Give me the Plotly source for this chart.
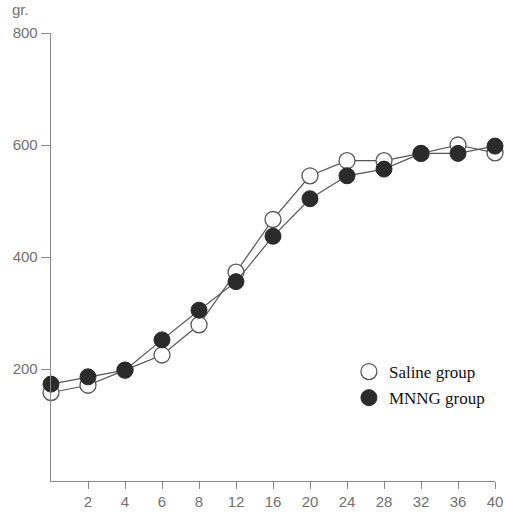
import plotly.graph_objects as go

weeks = ["0", "2", "4", "6", "8", "12", "16", "20", "24", "28", "32", "36", "40"]
saline = [158, 171, 198, 225, 279, 373, 467, 545, 572, 572, 585, 600, 586]
mnng = [173, 186, 198, 252, 305, 356, 437, 504, 545, 557, 585, 585, 598]
ytick_vals = [200, 400, 600, 800]

idx = list(range(len(weeks)))

open_marker = dict(size=16, color="white", line=dict(color="#555555", width=1.3))
filled_marker = dict(size=16, color="#2b2b2b", line=dict(color="#2b2b2b", width=1))

fig = go.Figure()
fig.add_trace(go.Scatter(
    x=idx, y=saline, mode="lines+markers", showlegend=False,
    line=dict(color="#555555", width=1.2), marker=open_marker, cliponaxis=False,
))
fig.add_trace(go.Scatter(
    x=idx, y=mnng, mode="lines+markers", showlegend=False,
    line=dict(color="#555555", width=1.2), marker=filled_marker, cliponaxis=False,
))
# legend entries (markers only)
fig.add_trace(go.Scatter(x=[None], y=[None], mode="markers", name="Saline group",
                         marker=open_marker, legendgroup="a"))
fig.add_trace(go.Scatter(x=[None], y=[None], mode="markers", name="MNNG group",
                         marker=filled_marker, legendgroup="b"))

tickfont = dict(family="Liberation Sans, Arial, sans-serif", size=15, color="#707070")

fig.update_layout(
    width=505, height=514,
    margin=dict(l=51, r=10, t=33, b=33, autoexpand=False),
    plot_bgcolor="white", paper_bgcolor="white",
    showlegend=True,
    legend=dict(
        x=0.671, y=0.2835, xanchor="left", yanchor="top",
        font=dict(family="Liberation Serif, Times New Roman, serif", size=17, color="#111111"),
        bgcolor="rgba(0,0,0,0)", traceorder="grouped", tracegroupgap=1,
        itemwidth=30,
    ),
    xaxis=dict(
        range=[0, 12], tickmode="array", tickvals=idx[1:], ticktext=weeks[1:],
        showgrid=False, zeroline=False, showline=True, linecolor="#888888", linewidth=1.3,
        ticks="outside", ticklen=7, tickcolor="#888888", automargin=False,
        tickfont=tickfont,
    ),
    yaxis=dict(
        range=[0, 800], tickmode="array", tickvals=ytick_vals,
        showgrid=False, zeroline=False, showline=True, linecolor="#888888", linewidth=1.3,
        ticks="outside", ticklen=9, tickcolor="#888888", automargin=False,
        tickfont=tickfont,
    ),
    annotations=[dict(
        text="gr.", x=-0.092, y=1.03, xref="paper", yref="paper",
        xanchor="left", yanchor="bottom", showarrow=False,
        font=tickfont,
    )],
)

fig.write_html(
    "out.html",
    config={"displayModeBar": False, "staticPlot": True},
    post_script="document.body.style.margin='0';document.body.style.overflow='hidden';",
)
